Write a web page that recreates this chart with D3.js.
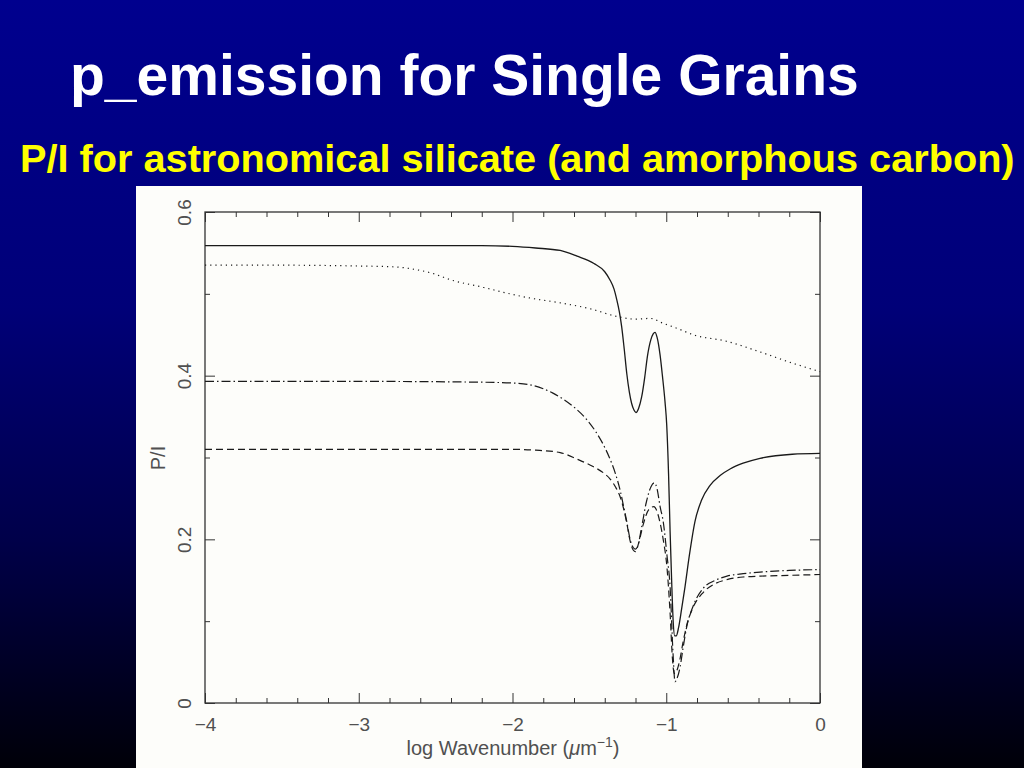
<!DOCTYPE html>
<html>
<head>
<meta charset="utf-8">
<script src="https://cdn.jsdelivr.net/npm/d3@7"></script>
<style>
  html, body { margin: 0; padding: 0; background: #000; }
  svg { display: block; }
</style>
</head>
<body>
<svg id="chart" width="1024" height="768"></svg>
<script>
// ---- Data ----
const titleText = "p_emission for Single Grains";
const subtitleText = "P/I for astronomical silicate (and amorphous carbon)";
const xTickValues = [-4, -3, -2, -1, 0];
const xTickLabels = ["\u22124", "\u22123", "\u22122", "\u22121", "0"];
const yTickValues = [0, 0.2, 0.4, 0.6];
const yTickLabels = ["0", "0.2", "0.4", "0.6"];

const solidX = [-4, -3, -2.2, -2.0, -1.85, -1.69, -1.58, -1.47, -1.40, -1.366, -1.34, -1.322, -1.305, -1.29, -1.273, -1.257, -1.24, -1.225, -1.21, -1.197, -1.18, -1.16, -1.14, -1.123, -1.10, -1.085, -1.073, -1.06, -1.05, -1.04, -1.025, -1.008, -0.997, -0.985, -0.975, -0.965, -0.955, -0.945, -0.935, -0.92, -0.90, -0.878, -0.85, -0.813, -0.77, -0.715, -0.65, -0.585, -0.5, -0.39, -0.18, 0];
const solidY = [0.559, 0.559, 0.559, 0.558, 0.556, 0.553, 0.546, 0.537, 0.527, 0.517, 0.506, 0.493, 0.478, 0.460, 0.432, 0.403, 0.380, 0.366, 0.358, 0.355, 0.360, 0.374, 0.398, 0.423, 0.444, 0.451, 0.453, 0.447, 0.438, 0.425, 0.400, 0.368, 0.340, 0.280, 0.210, 0.150, 0.100, 0.082, 0.082, 0.092, 0.115, 0.142, 0.180, 0.222, 0.248, 0.266, 0.278, 0.286, 0.293, 0.299, 0.304, 0.305];

const dottedX = [-4, -3.5, -3.0, -2.77, -2.64, -2.52, -2.40, -2.19, -2.04, -1.89, -1.69, -1.5, -1.30, -1.2, -1.106, -1.02, -0.932, -0.824, -0.607, -0.39, -0.174, 0];
const dottedY = [0.535, 0.535, 0.534, 0.533, 0.530, 0.525, 0.517, 0.508, 0.501, 0.495, 0.489, 0.482, 0.4715, 0.469, 0.470, 0.464, 0.458, 0.450, 0.442, 0.429, 0.415, 0.405];

const dashDotX = [-4, -3, -2.2, -2.0, -1.89, -1.80, -1.74, -1.66, -1.59, -1.52, -1.46, -1.41, -1.37, -1.33, -1.30, -1.277, -1.257, -1.235, -1.215, -1.20, -1.185, -1.16, -1.13, -1.10, -1.078, -1.06, -1.04, -1.02, -0.995, -0.975, -0.956, -0.943, -0.93, -0.91, -0.89, -0.867, -0.826, -0.76, -0.68, -0.605, -0.5, -0.39, -0.2, 0];
const dashDotY = [0.393, 0.393, 0.392, 0.391, 0.389, 0.384, 0.379, 0.370, 0.360, 0.347, 0.332, 0.316, 0.300, 0.280, 0.260, 0.240, 0.222, 0.200, 0.190, 0.188, 0.192, 0.215, 0.245, 0.264, 0.269, 0.262, 0.240, 0.222, 0.180, 0.142, 0.061, 0.026, 0.030, 0.044, 0.068, 0.093, 0.118, 0.140, 0.150, 0.155, 0.158, 0.160, 0.162, 0.163];

const dashedX = [-4, -3, -2.0, -1.85, -1.69, -1.58, -1.476, -1.40, -1.366, -1.33, -1.30, -1.278, -1.257, -1.235, -1.215, -1.20, -1.18, -1.15, -1.115, -1.08, -1.06, -1.04, -1.02, -0.995, -0.975, -0.96, -0.948, -0.935, -0.915, -0.89, -0.867, -0.83, -0.76, -0.68, -0.6, -0.5, -0.39, -0.2, 0];
const dashedY = [0.310, 0.310, 0.310, 0.309, 0.306, 0.298, 0.289, 0.280, 0.274, 0.264, 0.252, 0.238, 0.220, 0.198, 0.187, 0.185, 0.195, 0.218, 0.236, 0.240, 0.234, 0.220, 0.200, 0.165, 0.110, 0.055, 0.036, 0.038, 0.050, 0.075, 0.095, 0.115, 0.135, 0.146, 0.151, 0.154, 0.155, 0.156, 0.157];

// ---- Drawing ----
const svg = d3.select("#chart");
const defs = svg.append("defs");
const grad = defs.append("linearGradient").attr("id", "bg").attr("x1", 0).attr("y1", 0).attr("x2", 0).attr("y2", 1);
grad.append("stop").attr("offset", "0%").attr("stop-color", "#00008e");
grad.append("stop").attr("offset", "40%").attr("stop-color", "#000078");
grad.append("stop").attr("offset", "70%").attr("stop-color", "#00004a");
grad.append("stop").attr("offset", "100%").attr("stop-color", "#000008");
svg.append("rect").attr("width", 1024).attr("height", 768).attr("fill", "url(#bg)");

svg.append("text").text(titleText)
  .attr("x", 70).attr("y", 95)
  .attr("font-family", "'Liberation Sans', Arial, sans-serif")
  .attr("font-weight", "bold").attr("font-size", 57).attr("fill", "#ffffff");

svg.append("text").text(subtitleText)
  .attr("x", 20).attr("y", 172)
  .attr("font-family", "'Liberation Sans', Arial, sans-serif")
  .attr("font-weight", "bold").attr("font-size", 39.7).attr("fill", "#ffff00");

// white panel
svg.append("rect").attr("x", 136).attr("y", 186).attr("width", 726).attr("height", 582).attr("fill", "#fdfdfa");

const x = d3.scaleLinear().domain([-4, 0]).range([205, 820]);
const y = d3.scaleLinear().domain([0, 0.6]).range([703, 212]);

const axisColor = "#333";
const labelColor = "#505050";
const fontFam = "'Liberation Sans', Arial, sans-serif";

function styleAxis(g) {
  g.selectAll(".domain").remove();
  g.selectAll(".tick line").attr("stroke", axisColor).attr("stroke-width", 1);
  g.selectAll(".tick text").attr("fill", labelColor).attr("font-family", fontFam).attr("font-size", 19);
}

const minorX = d3.range(-4, 0.001, 0.2).map(v => +v.toFixed(2)).filter(v => !xTickValues.includes(v));
const minorY = [0.1, 0.3, 0.5];

// bottom
svg.append("g").attr("transform", `translate(0,${y(0)})`)
  .call(d3.axisBottom(x).tickValues(xTickValues).tickSize(-10).tickPadding(18)
    .tickFormat((d, i) => xTickLabels[i]))
  .call(styleAxis)
  .call(g => g.selectAll(".tick text").attr("dy", "0.5em"));
svg.append("g").attr("transform", `translate(0,${y(0)})`)
  .call(d3.axisBottom(x).tickValues(minorX).tickSize(-5).tickFormat(""))
  .call(styleAxis);
// top
svg.append("g").attr("transform", `translate(0,${y(0.6)})`)
  .call(d3.axisTop(x).tickValues(xTickValues).tickSize(-10).tickFormat(""))
  .call(styleAxis);
svg.append("g").attr("transform", `translate(0,${y(0.6)})`)
  .call(d3.axisTop(x).tickValues(minorX).tickSize(-5).tickFormat(""))
  .call(styleAxis);
// left
const leftAxis = svg.append("g").attr("transform", `translate(${x(-4)},0)`)
  .call(d3.axisLeft(y).tickValues(yTickValues).tickSize(-10).tickFormat((d, i) => yTickLabels[i]))
  .call(styleAxis);
leftAxis.selectAll(".tick text")
  .attr("x", null).attr("dy", null)
  .attr("text-anchor", "middle")
  .attr("transform", "translate(-14,0) rotate(-90)")
  .attr("y", 0);
svg.append("g").attr("transform", `translate(${x(-4)},0)`)
  .call(d3.axisLeft(y).tickValues(minorY).tickSize(-5).tickFormat(""))
  .call(styleAxis);
// right
svg.append("g").attr("transform", `translate(${x(0)},0)`)
  .call(d3.axisRight(y).tickValues(yTickValues).tickSize(-10).tickFormat(""))
  .call(styleAxis);
svg.append("g").attr("transform", `translate(${x(0)},0)`)
  .call(d3.axisRight(y).tickValues(minorY).tickSize(-5).tickFormat(""))
  .call(styleAxis);

// frame
svg.append("rect").attr("x", x(-4)).attr("y", y(0.6))
  .attr("width", x(0) - x(-4)).attr("height", y(0) - y(0.6))
  .attr("fill", "none").attr("stroke", axisColor).attr("stroke-width", 1.3);

// axis titles
svg.append("text").attr("transform", `translate(165,458) rotate(-90)`)
  .attr("text-anchor", "middle").attr("fill", labelColor)
  .attr("font-family", fontFam).attr("font-size", 20).text("P/I");

const xt = svg.append("text").attr("x", 513).attr("y", 755)
  .attr("text-anchor", "middle").attr("fill", labelColor)
  .attr("font-family", fontFam).attr("font-size", 20);
xt.append("tspan").text("log Wavenumber (");
xt.append("tspan").attr("font-style", "italic").text("\u03bc");
xt.append("tspan").text("m");
xt.append("tspan").attr("dy", -8).attr("font-size", 14).text("\u22121");
xt.append("tspan").attr("dy", 8).text(")");

// curves
const series = [
  { xs: solidX, ys: solidY, dash: null, w: 1.3 },
  { xs: dottedX, ys: dottedY, dash: "1.2,4", w: 1.2 },
  { xs: dashDotX, ys: dashDotY, dash: "9,3,1.5,3", w: 1.2 },
  { xs: dashedX, ys: dashedY, dash: "7,4", w: 1.2 }
];
const line = d3.line().x(d => x(d[0])).y(d => y(d[1])).curve(d3.curveMonotoneX);
series.forEach(s => {
  const pts = s.xs.map((v, i) => [v, s.ys[i]]);
  svg.append("path").datum(pts).attr("d", line)
    .attr("fill", "none").attr("stroke", "#1a1a1a").attr("stroke-width", s.w)
    .attr("stroke-dasharray", s.dash);
});
</script>
</body>
</html>
